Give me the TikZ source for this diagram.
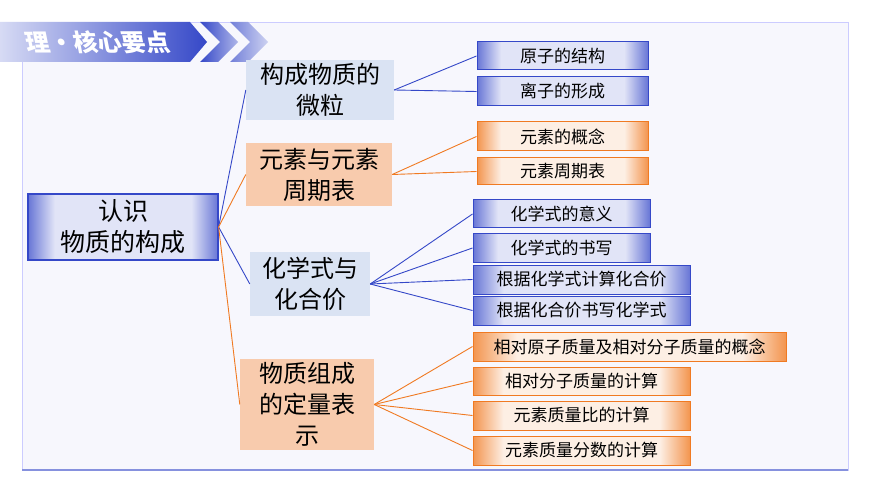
\documentclass[tikz,border=0pt]{standalone}
\usepackage{fontspec}
\newfontfamily\cjk{Noto Sans CJK SC}
\definecolor{bl}{HTML}{3548C8}
\definecolor{blf}{HTML}{DAE3F3}
\definecolor{orl}{HTML}{F07A22}
\definecolor{orf}{HTML}{F8CBAD}
\definecolor{bg}{HTML}{F7F7FD}
\pgfdeclarehorizontalshading{bsh}{100bp}{color(0bp)=(bl!75); color(25bp)=(bl!75); color(32bp)=(white!85!bl); color(68bp)=(white!85!bl); color(75bp)=(bl!75); color(100bp)=(bl!75)}
\pgfdeclarehorizontalshading{osh}{100bp}{color(0bp)=(orl!80); color(25bp)=(orl!80); color(32bp)=(white!88!orl); color(68bp)=(white!88!orl); color(75bp)=(orl!80); color(100bp)=(orl!80)}
\tikzset{
 x=1pt,y=-1pt,
 bleaf/.style={draw=bl,line width=1pt,shading=bsh,font=\cjk\fontsize{17}{19}\selectfont,inner sep=0pt},
 oleaf/.style={draw=orl,line width=1pt,shading=osh,font=\cjk\fontsize{17}{19}\selectfont,inner sep=0pt},
 midb/.style={fill=blf,font=\cjk\fontsize{24}{31}\selectfont,align=center,inner sep=0pt},
 mido/.style={fill=orf,font=\cjk\fontsize{24}{31}\selectfont,align=center,inner sep=0pt},
 bc/.style={draw=bl,line width=0.9pt},
 oc/.style={draw=orl,line width=0.9pt},
}
\begin{document}
\begin{tikzpicture}
\useasboundingbox (0,0) rectangle (870,489);
\fill[white] (0,0) rectangle (870,489);
\fill[bg] (22,22) rectangle (848,470);
\draw[blue!20,line width=0.6pt] (22,22) rectangle (848,470);
\draw[bl!60,line width=1.2pt] (22,470) -- (848,470);
% title banner
\shade[left color=white!80!bl,right color=bl] (0,22) -- (190,22) -- (207,42) -- (190,62) -- (0,62) -- cycle;
\shade[left color=bl,right color=white!60!bl] (200,22) -- (218,22) -- (238,42) -- (218,62) -- (200,62) -- (220,42) -- cycle;
\shade[left color=bl!70,right color=white!75!bl] (230,22) -- (248,22) -- (268,42) -- (248,62) -- (230,62) -- (250,42) -- cycle;
\node[font=\cjk\bfseries\fontsize{24}{26}\selectfont,text=white,xslant=-0.2] (title) at (98,42) {理·核心要点};
% root
\node[draw=bl,line width=1.2pt,shading=bsh,minimum width=190,minimum height=66,inner sep=0pt,align=center,font=\cjk\fontsize{25}{31}\selectfont] (root) at (123,227) {认识\\物质的构成};
% level 1
\node[midb,minimum width=148,minimum height=60] (A) at (320,90) {构成物质的\\微粒};
\node[mido,minimum width=146,minimum height=63] (B) at (319,174.5) {元素与元素\\周期表};
\node[midb,minimum width=120,minimum height=64] (C) at (310,284) {化学式与\\化合价};
\node[mido,minimum width=134,minimum height=91] (D) at (307,404.5) {物质组成\\的定量表\\示};
% leaves
\node[bleaf,minimum width=171,minimum height=28] (l1) at (562.5,56) {原子的结构};
\node[bleaf,minimum width=171,minimum height=29] (l2) at (562.5,91.5) {离子的形成};
\node[oleaf,minimum width=171,minimum height=29] (l3) at (562.5,136.5) {元素的概念};
\node[oleaf,minimum width=171,minimum height=27] (l4) at (562.5,171.5) {元素周期表};
\node[bleaf,minimum width=177,minimum height=28] (l5) at (561.5,214) {化学式的意义};
\node[bleaf,minimum width=177,minimum height=28] (l6) at (561.5,248) {化学式的书写};
\node[bleaf,minimum width=217,minimum height=29] (l7) at (581.5,279.5) {根据化学式计算化合价};
\node[bleaf,minimum width=217,minimum height=29] (l8) at (581.5,310.5) {根据化合价书写化学式};
\node[oleaf,minimum width=313,minimum height=29] (l9) at (629.5,346.5) {相对原子质量及相对分子质量的概念};
\node[oleaf,minimum width=217,minimum height=28] (l10) at (581.5,381) {相对分子质量的计算};
\node[oleaf,minimum width=217,minimum height=29] (l11) at (581.5,415.5) {元素质量比的计算};
\node[oleaf,minimum width=217,minimum height=29] (l12) at (581.5,450.5) {元素质量分数的计算};
% connectors
\draw[bc] (root.east) -- (A.west);
\draw[oc] (root.east) -- (B.west);
\draw[bc] (root.east) -- (C.west);
\draw[oc] (root.east) -- (D.west);
\draw[bc] (A.east) -- (l1.west); \draw[bc] (A.east) -- (l2.west);
\draw[oc] (B.east) -- (l3.west); \draw[oc] (B.east) -- (l4.west);
\foreach \i in {5,...,8} \draw[bc] (C.east) -- (l\i.west);
\foreach \i in {9,...,12} \draw[oc] (D.east) -- (l\i.west);
\end{tikzpicture}
\end{document}
